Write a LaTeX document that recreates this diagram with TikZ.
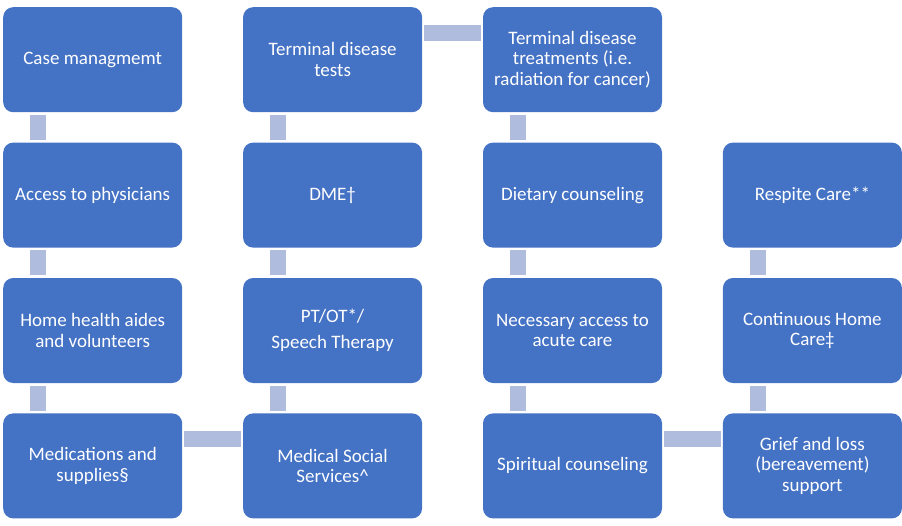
\documentclass[tikz,border=0pt]{standalone}
\usepackage{fontspec}
\setmainfont{Carlito}
\usetikzlibrary{positioning}
\definecolor{boxblue}{HTML}{4472C4}
\definecolor{linkblue}{RGB}{176,188,221}

\begin{document}
\begin{tikzpicture}[
  care/.style={rectangle, rounded corners=10pt, fill=boxblue, text=white,
    minimum width=179pt, minimum height=105pt, inner sep=0pt, align=center,
    font=\fontsize{19}{20.5}\selectfont},
  link/.style={draw=linkblue, line width=16pt}]
\useasboundingbox (0,0) rectangle (902pt,-525pt);

\node[care, anchor=north west] (case) at (3pt,-7pt) {Case managmemt};
\node[care, below=30pt of case] (phys) {Access to physicians};
\node[care, below=30pt of phys] (aides) {Home health aides\\and volunteers};
\node[care, below=30pt of aides] (meds) {Medications and\\supplies\S};

\node[care, right=60.5pt of case] (tests) {Terminal disease\\tests};
\node[care, below=30pt of tests] (dme) {DME\textdagger};
\node[care, below=30pt of dme] (ptot) {PT/OT*/\\[6pt]Speech Therapy};
\node[care, below=30pt of ptot] (social) {Medical Social\\Services\textasciicircum};

\node[care, right=60.5pt of tests] (treat) {Terminal disease\\treatments (i.e.\\radiation for cancer)};
\node[care, below=30pt of treat] (diet) {Dietary counseling};
\node[care, below=30pt of diet] (acute) {Necessary access to\\acute care};
\node[care, below=30pt of acute] (spirit) {Spiritual counseling};

\node[care, right=60.5pt of diet] (respite) {Respite Care**};
\node[care, below=30pt of respite] (cont) {Continuous Home\\Care\textdaggerdbl};
\node[care, below=30pt of cont] (grief) {Grief and loss\\(bereavement)\\support};

\draw[link] ([xshift=35pt,yshift=-2.5pt]case.south west) -- ([xshift=35pt,yshift=2.5pt]phys.north west);
\draw[link] ([xshift=35pt,yshift=-2.5pt]phys.south west) -- ([xshift=35pt,yshift=2.5pt]aides.north west);
\draw[link] ([xshift=35pt,yshift=-2.5pt]aides.south west) -- ([xshift=35pt,yshift=2.5pt]meds.north west);
\draw[link] ([xshift=2pt,yshift=-26pt]meds.north east) -- ([xshift=-2pt,yshift=-26pt]social.north west);
\draw[link] ([xshift=35pt,yshift=2.5pt]social.north west) -- ([xshift=35pt,yshift=-2.5pt]ptot.south west);
\draw[link] ([xshift=35pt,yshift=2.5pt]ptot.north west) -- ([xshift=35pt,yshift=-2.5pt]dme.south west);
\draw[link] ([xshift=35pt,yshift=2.5pt]dme.north west) -- ([xshift=35pt,yshift=-2.5pt]tests.south west);
\draw[link] ([xshift=2pt,yshift=-25.5pt]tests.north east) -- ([xshift=-2pt,yshift=-25.5pt]treat.north west);
\draw[link] ([xshift=35pt,yshift=-2.5pt]treat.south west) -- ([xshift=35pt,yshift=2.5pt]diet.north west);
\draw[link] ([xshift=35pt,yshift=-2.5pt]diet.south west) -- ([xshift=35pt,yshift=2.5pt]acute.north west);
\draw[link] ([xshift=35pt,yshift=-2.5pt]acute.south west) -- ([xshift=35pt,yshift=2.5pt]spirit.north west);
\draw[link] ([xshift=2pt,yshift=-26pt]spirit.north east) -- ([xshift=-2pt,yshift=-26pt]grief.north west);
\draw[link] ([xshift=35pt,yshift=2.5pt]grief.north west) -- ([xshift=35pt,yshift=-2.5pt]cont.south west);
\draw[link] ([xshift=35pt,yshift=2.5pt]cont.north west) -- ([xshift=35pt,yshift=-2.5pt]respite.south west);
\end{tikzpicture}
\end{document}
